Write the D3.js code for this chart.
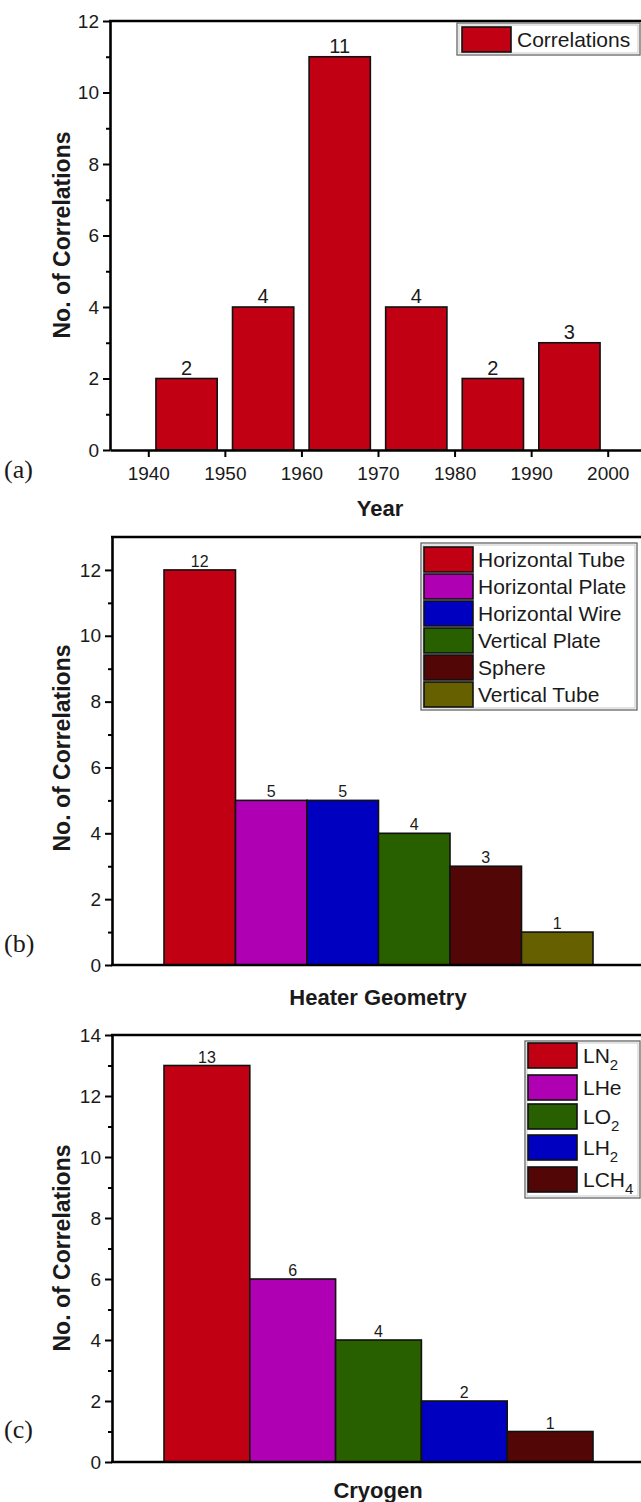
<!DOCTYPE html>
<html>
<head>
<meta charset="utf-8">
<script src="https://cdn.jsdelivr.net/npm/d3@7"></script>
<style>
body { margin: 0; background: #fff; }
text { font-family: "Liberation Sans", Arial, Helvetica, sans-serif; fill: #1a1a1a; }
</style>
</head>
<body>
<svg width="641" height="1502"></svg>
<script>
// data
var years = [1940, 1950, 1960, 1970, 1980, 1990];
var yearCounts = [2, 4, 11, 4, 2, 3];
var yearTicks = [1940, 1950, 1960, 1970, 1980, 1990, 2000];

var geometries = ["Horizontal Tube", "Horizontal Plate", "Horizontal Wire", "Vertical Plate", "Sphere", "Vertical Tube"];
var geometryCounts = [12, 5, 5, 4, 3, 1];
var geometryColors = ["#c10014", "#b000b4", "#0000c0", "#286000", "#520606", "#666000"];

var cryogens = ["LN2", "LHe", "LO2", "LH2", "LCH4"];
var cryogenCounts = [13, 6, 4, 2, 1];
var cryogenColors = ["#c10014", "#b000b4", "#286000", "#0000c0", "#520606"];

var svg = d3.select("svg");
var frameRight = 646;

function styleAxis(sel, fontSize) {
  sel.attr("font-family", null);
  sel.select(".domain").attr("stroke", "#000").attr("stroke-width", 2.6);
  sel.selectAll(".tick line").attr("stroke", "#000").attr("stroke-width", 2);
  sel.selectAll(".tick text").style("font-size", fontSize + "px").attr("fill", "#1a1a1a");
}

// left axis with minor ticks + top border line
function drawFrame(g, y, left, tickMax, yTop) {
  g.append("g")
    .attr("transform", "translate(" + left + ",0)")
    .call(d3.axisLeft(y).tickValues(d3.range(0, tickMax + 1, 2)).tickSize(7).tickSizeOuter(0).tickPadding(4))
    .call(styleAxis, 19);
  var minor = g.append("g")
    .attr("transform", "translate(" + left + ",0)")
    .call(d3.axisLeft(y).tickValues(d3.range(1, tickMax, 2)).tickSize(4).tickFormat(""));
  minor.select(".domain").remove();
  minor.selectAll(".tick line").attr("stroke", "#000").attr("stroke-width", 2);
  g.append("line")
    .attr("x1", left - 1).attr("x2", frameRight)
    .attr("y1", yTop).attr("y2", yTop)
    .attr("stroke", "#000").attr("stroke-width", 2.6);
}

function yTitle(g, cy) {
  g.append("text")
    .attr("transform", "translate(70," + cy + ") rotate(-90)")
    .attr("text-anchor", "middle")
    .style("font-size", "23px").style("font-weight", "bold")
    .text("No. of Correlations");
}

function xTitle(g, x, y, label) {
  g.append("text")
    .attr("x", x).attr("y", y)
    .attr("text-anchor", "middle")
    .style("font-size", "22px").style("font-weight", "bold")
    .text(label);
}

function panelTag(g, y, label) {
  g.append("text")
    .attr("x", 4).attr("y", y)
    .style("font-family", "'Liberation Serif', 'Times New Roman', serif")
    .style("font-size", "26px")
    .text(label);
}

// label with a trailing digit written as subscript (LN2 -> LN₂)
function addLabel(t, label) {
  var m = label.match(/^(.*?)(\d)$/);
  if (m) {
    t.append("tspan").text(m[1]);
    t.append("tspan").attr("dy", 7).style("font-size", "15px").text(m[2]);
  } else {
    t.text(label);
  }
}

function drawLegend(g, box, swX, txtX, rows, labels, colors) {
  g.append("rect")
    .attr("x", box[0]).attr("y", box[1]).attr("width", box[2]).attr("height", box[3])
    .attr("fill", "#fff").attr("stroke", "#666").attr("stroke-width", 1.3);
  g.append("rect")
    .attr("x", box[0] + 2).attr("y", box[1] + 2).attr("width", box[2] - 4).attr("height", box[3] - 4)
    .attr("fill", "none").attr("stroke", "#bbb").attr("stroke-width", 0.8);
  labels.forEach(function (lab, i) {
    g.append("rect")
      .attr("x", swX).attr("y", rows[i]).attr("width", 49).attr("height", 25)
      .attr("fill", colors[i]).attr("stroke", "#111").attr("stroke-width", 1.6);
    var t = g.append("text")
      .attr("x", txtX).attr("y", rows[i] + 20)
      .style("font-size", "21px");
    addLabel(t, lab);
  });
}

// ---------- (a) by year ----------
var ga = svg.append("g");
var ya = d3.scaleLinear().domain([0, 12]).range([450, 21]);
var xa = d3.scaleLinear().domain([1935, 2005]).range([110, frameRight]);

ga.selectAll(".bar")
  .data(years)
  .enter()
  .append("rect")
  .attr("x", function (d) { return xa(d + 1); })
  .attr("width", function (d) { return xa(d + 9) - xa(d + 1); })
  .attr("y", function (d, i) { return ya(yearCounts[i]); })
  .attr("height", function (d, i) { return ya(0) - ya(yearCounts[i]); })
  .attr("fill", "#c10014").attr("stroke", "#111").attr("stroke-width", 1.6);

ga.selectAll(".val")
  .data(years)
  .enter()
  .append("text")
  .attr("x", function (d) { return xa(d + 5); })
  .attr("y", function (d, i) { return ya(yearCounts[i]) - 4; })
  .attr("text-anchor", "middle")
  .style("font-size", "20px")
  .text(function (d, i) { return yearCounts[i]; });

ga.append("g")
  .attr("transform", "translate(0," + ya(0) + ")")
  .call(d3.axisBottom(xa).tickValues(yearTicks).tickSize(7).tickSizeOuter(0).tickPadding(10).tickFormat(d3.format("d")))
  .call(styleAxis, 19);
drawFrame(ga, ya, 110, 12, ya(12));
yTitle(ga, 235);
xTitle(ga, 380, 516, "Year");
panelTag(ga, 478, "(a)");
drawLegend(ga, [457, 23, 183, 32], 462, 517, [27], ["Correlations"], ["#c10014"]);

// ---------- (b) heater geometry ----------
var gb = svg.append("g");
var yb = d3.scaleLinear().domain([0, 13]).range([965, 537]);
var xb = d3.scaleBand().domain(geometries).range([164, 593]);

gb.selectAll(".bar")
  .data(geometries)
  .enter()
  .append("rect")
  .attr("x", function (d) { return xb(d); })
  .attr("width", xb.bandwidth())
  .attr("y", function (d, i) { return yb(geometryCounts[i]); })
  .attr("height", function (d, i) { return yb(0) - yb(geometryCounts[i]); })
  .attr("fill", function (d, i) { return geometryColors[i]; })
  .attr("stroke", "#111").attr("stroke-width", 1.6);

gb.selectAll(".val")
  .data(geometries)
  .enter()
  .append("text")
  .attr("x", function (d) { return xb(d) + xb.bandwidth() / 2; })
  .attr("y", function (d, i) { return yb(geometryCounts[i]) - 3; })
  .attr("text-anchor", "middle")
  .style("font-size", "16px")
  .text(function (d, i) { return geometryCounts[i]; });

drawFrame(gb, yb, 112, 12, yb(13));
gb.append("line")
  .attr("x1", 111).attr("x2", frameRight)
  .attr("y1", yb(0)).attr("y2", yb(0))
  .attr("stroke", "#000").attr("stroke-width", 2.6);
yTitle(gb, 748);
xTitle(gb, 378, 1005, "Heater Geometry");
panelTag(gb, 952, "(b)");
drawLegend(gb, [421, 543, 216, 167], 424, 478, [547, 574, 601, 628, 655, 682], geometries, geometryColors);

// ---------- (c) cryogen ----------
var gc = svg.append("g");
var yc = d3.scaleLinear().domain([0, 14]).range([1462, 1035]);
var xc = d3.scaleBand().domain(cryogens).range([164, 593]);

gc.selectAll(".bar")
  .data(cryogens)
  .enter()
  .append("rect")
  .attr("x", function (d) { return xc(d); })
  .attr("width", xc.bandwidth())
  .attr("y", function (d, i) { return yc(cryogenCounts[i]); })
  .attr("height", function (d, i) { return yc(0) - yc(cryogenCounts[i]); })
  .attr("fill", function (d, i) { return cryogenColors[i]; })
  .attr("stroke", "#111").attr("stroke-width", 1.6);

gc.selectAll(".val")
  .data(cryogens)
  .enter()
  .append("text")
  .attr("x", function (d) { return xc(d) + xc.bandwidth() / 2; })
  .attr("y", function (d, i) { return yc(cryogenCounts[i]) - 3; })
  .attr("text-anchor", "middle")
  .style("font-size", "16px")
  .text(function (d, i) { return cryogenCounts[i]; });

drawFrame(gc, yc, 112, 14, yc(14));
gc.append("line")
  .attr("x1", 111).attr("x2", frameRight)
  .attr("y1", yc(0)).attr("y2", yc(0))
  .attr("stroke", "#000").attr("stroke-width", 2.6);
yTitle(gc, 1248);
xTitle(gc, 378, 1498, "Cryogen");
panelTag(gc, 1438, "(c)");
drawLegend(gc, [525, 1041, 115, 157], 528, 583, [1043, 1075, 1104, 1135, 1167], cryogens, cryogenColors);
</script>
</body>
</html>
